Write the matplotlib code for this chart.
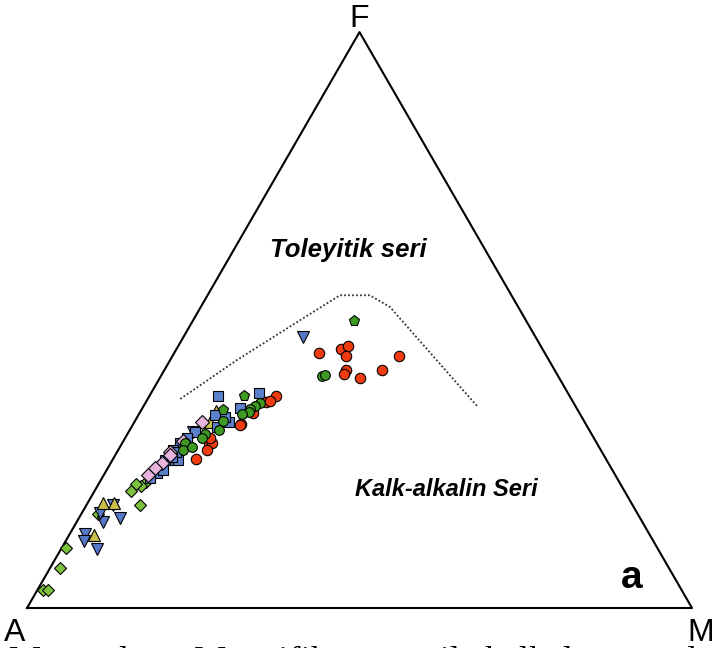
"""
AFM ternary diagram (A = Na2O+K2O, F = FeO*, M = MgO)
with the tholeiitic / calc-alkaline boundary
"""

import matplotlib.pyplot as plt
import numpy as np

# sample compositions as (F %, M %); A = 100 - F - M
red_F = [44.3, 44.9, 45.5, 43.8, 43.8, 41.4, 40.6, 40.0, 41.3,
         36.8, 35.8, 33.8, 31.9, 28.6, 28.7, 27.4, 25.9, 29.5, 31.8, 36.0]
red_M = [21.8, 24.7, 25.5, 26.0, 34.0, 27.2, 27.4, 30.1, 32.8,
         19.0, 18.1, 17.1, 16.3, 13.0, 13.5, 13.3, 12.5, 12.8, 16.1, 18.5]

green_F = [40.3, 40.4, 35.6, 35.1, 34.5, 34.1, 33.6, 32.5, 30.9,
           30.3, 29.5, 28.6, 27.4, 28.0]
green_M = [24.2, 24.6, 17.2, 16.8, 16.3, 16.4, 15.5, 13.2, 13.4,
           11.6, 11.6, 9.5, 9.8, 10.8]

pent_F = [49.9, 36.8, 34.4]
pent_M = [24.2, 14.2, 12.3]

lgreen_F = [21.8, 21.2, 21.5, 20.4, 17.9, 16.4, 10.5, 7.0, 3.1, 3.1]
lgreen_M = [7.0, 6.5, 5.6, 5.4, 8.0, 2.5, 0.6, 1.5, 0.9, 1.6]

blue_sq_F = [36.8, 37.3, 34.7, 32.3, 33.2, 33.5, 30.6, 29.5, 28.6, 25.7,
             27.4, 25.7, 23.4, 22.5, 25.7, 24.0, 27.1, 26.2, 31.5]
blue_sq_M = [10.3, 16.3, 14.7, 14.3, 13.2, 11.5, 10.0, 9.3, 8.7, 9.0,
             8.3, 7.9, 7.8, 7.2, 9.9, 8.5, 8.9, 8.7, 12.8]

pink_F = [32.3, 27.1, 26.6, 25.1, 24.3, 23.1, 29.0]
pink_M = [10.1, 7.9, 8.2, 7.7, 7.1, 6.7, 9.0]

yellow_F = [34.2, 32.3, 18.2, 18.3, 12.7]
yellow_M = [11.3, 11.4, 2.3, 3.9, 3.7]

blue_tri_F = [47.1, 30.6, 17.9, 15.0, 15.6, 16.5, 12.8, 11.7, 10.2]
blue_tri_M = [17.9, 9.6, 4.0, 4.0, 6.2, 2.8, 2.3, 2.7, 5.5]

# Irvine & Baragar (1971) boundary
bound_F = [36.3, 43.0, 50.0, 54.3, 54.3, 52.3, 35.1]
bound_M = [4.9, 10.0, 16.1, 19.9, 24.4, 28.4, 50.1]

H = np.sqrt(3) / 2


def tern(F, M):
    F = np.asarray(F) / 100.
    M = np.asarray(M) / 100.
    return M + F / 2., F * H


fig = plt.figure(figsize=(7.12, 6.48), dpi=100)
ax = fig.add_axes([0, 0, 1, 1])
ax.set_xlim(-27 / 665., 685 / 665.)
ax.set_ylim(-40 / 665., 608 / 665.)
ax.axis('off')

# triangle frame
ax.plot([0, 1, 0.5, 0], [0, 0, H, 0], c='k', lw=1.5, zorder=1)

x, y = tern(bound_F, bound_M)
ax.plot(x, y, ls=(0, (1, 1.2)), c='#333333', lw=1.3, zorder=1)

sty = dict(mec='k', mew=0.8, ls='none', zorder=3)
x, y = tern(lgreen_F, lgreen_M)
ax.plot(x, y, marker='D', ms=5.8, mfc='#7cc23c', **sty)
x, y = tern(blue_tri_F, blue_tri_M)
ax.plot(x, y, marker='v', ms=8, mfc='#5578c8', **sty)
x, y = tern(yellow_F, yellow_M)
ax.plot(x, y, marker='^', ms=8, mfc='#c8c048', **sty)
x, y = tern(blue_sq_F, blue_sq_M)
ax.plot(x, y, marker='s', ms=7.8, mfc='#5b80cc', **sty)
x, y = tern(pink_F, pink_M)
ax.plot(x, y, marker='D', ms=6.8, mfc='#e6b4dc', **sty)
x, y = tern(red_F, red_M)
ax.plot(x, y, marker='o', ms=7.5, mfc='#f03a10', **sty)
x, y = tern(green_F, green_M)
ax.plot(x, y, marker='o', ms=7, mfc='#3e9a22', **sty)
x, y = tern(pent_F, pent_M)
ax.plot(x, y, marker='p', ms=8, mfc='#3e9a22', **sty)

font = 'Liberation Sans'
ax.text(0.5, 581 / 665., "F", ha='center', va='baseline', fontsize=23,
        family=font)
ax.text(-0.018, -33 / 665., "A", ha='center', va='baseline', fontsize=23,
        family=font)
ax.text(1.013, -33 / 665., "M", ha='center', va='baseline', fontsize=23,
        family=font)
ax.text(0.483, 0.538, "Toleyitik seri", ha='center', va='center',
        fontsize=18.5, weight='bold', style='italic', family=font)
ax.text(0.63, 0.178, "Kalk-alkalin Seri", ha='center', va='center',
        fontsize=17, weight='bold', style='italic', family=font)
ax.text(0.91, 0.045, "a", ha='center', va='center', fontsize=28,
        weight='bold', family=font)

# caption line running off the bottom edge
fig.text(0.012, -0.036, "Magmaların Magnifikasyonu ile kalkalen ve toleyitik ayrımı",
         ha='left', va='baseline', fontsize=26, family='Liberation Serif')

fig.savefig('out.png', dpi=100)
